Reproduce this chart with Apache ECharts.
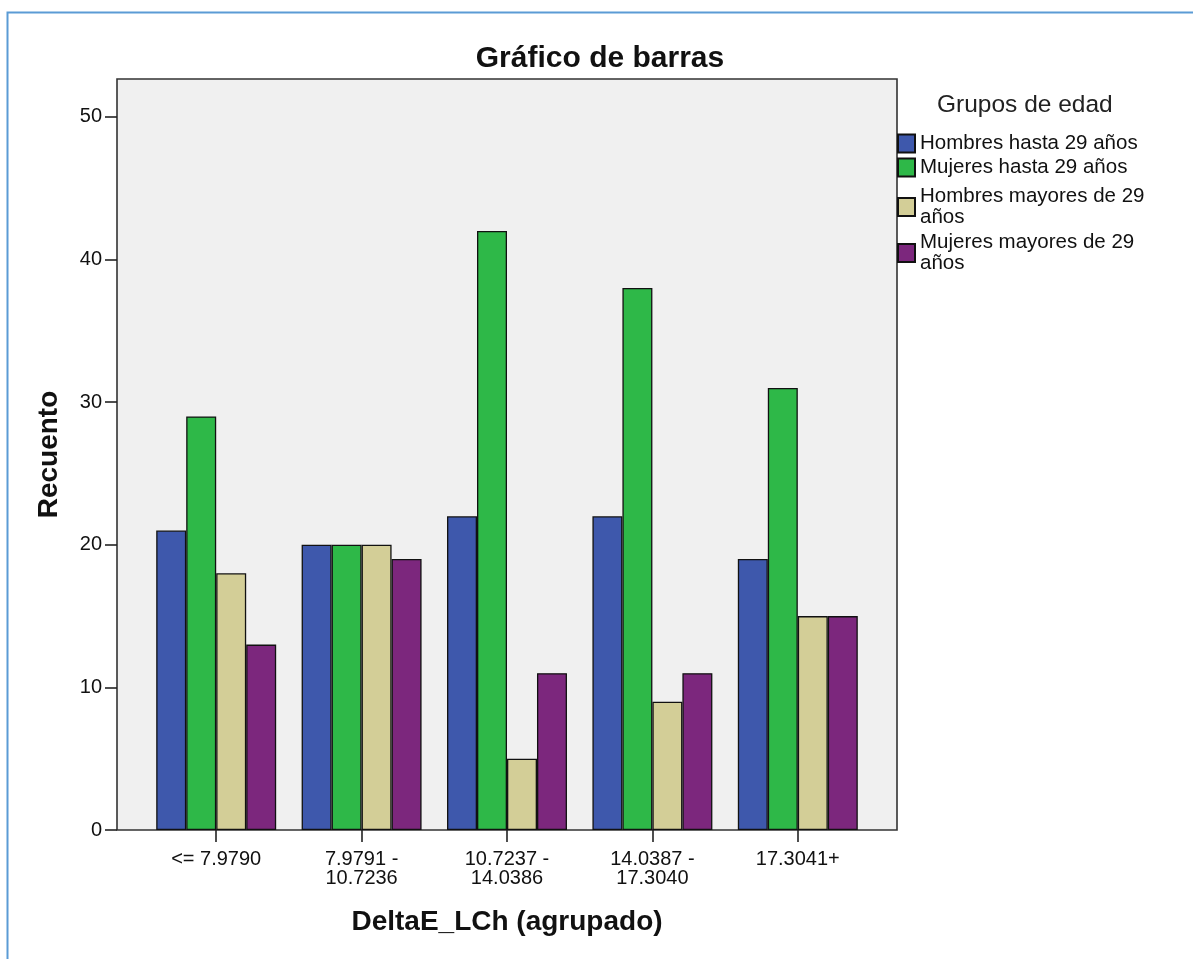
<!DOCTYPE html>
<html>
<head>
<meta charset="utf-8">
<title>Gráfico de barras</title>
<script src="https://cdn.jsdelivr.net/npm/echarts@6/dist/echarts.min.js"></script>
<style>
  html, body { margin: 0; padding: 0; background: #fff; }
  #chart { width: 1193px; height: 959px; }
</style>
</head>
<body>
<div id="chart"></div>
<script>
// datos
var categorias = ['<= 7.9790', '7.9791 -\n10.7236', '10.7237 -\n14.0386', '14.0387 -\n17.3040', '17.3041+'];
var grupos = ['Hombres hasta 29 años', 'Mujeres hasta 29 años', 'Hombres mayores de 29\naños', 'Mujeres mayores de 29\naños'];
var hombresHasta29 = [21, 20, 22, 22, 19];
var mujeresHasta29 = [29, 20, 42, 38, 31];
var hombresMayores29 = [18, 20, 5, 9, 15];
var mujeresMayores29 = [13, 19, 11, 11, 15];
var ticksY = [0, 10, 20, 30, 40, 50];

var colores = ['#3e58ac', '#2eb848', '#d3ce97', '#7c277d'];
var fuente = 'Liberation Sans, Arial, sans-serif';
var yMax = 52.66;
// posición vertical de cada fila de la leyenda
var topsLeyenda = [133, 157, 186, 232];

var myChart = echarts.init(document.getElementById('chart'));

function serie (i, datos) {
  return {
    name: grupos[i],
    type: 'bar',
    xAxisIndex: 1,
    yAxisIndex: 1,
    data: datos,
    barGap: '0%',
    barCategoryGap: '17.5%',
    itemStyle: { color: colores[i], borderColor: '#111', borderWidth: 1.3 },
    emphasis: { disabled: true }
  };
}

// una leyenda por fila para respetar el espaciado del original
var leyendas = grupos.map(function (g, i) {
  return {
    orient: 'vertical',
    left: 897,
    top: topsLeyenda[i],
    padding: 0,
    itemWidth: 17,
    itemHeight: 18,
    icon: 'rect',
    data: [g],
    selectedMode: false,
    textStyle: { fontFamily: fuente, fontSize: 20.5, lineHeight: 21, color: '#111' }
  };
});

var option = {
  animation: false,
  backgroundColor: '#fff',
  graphic: [{
    type: 'rect',
    left: 5,
    top: 10,
    shape: { width: 1300, height: 1100 },
    style: { fill: 'none', stroke: '#5b9bd5', lineWidth: 2 },
    silent: true
  }],
  title: [{
    text: 'Gráfico de barras',
    left: 600,
    top: 44,
    textAlign: 'center',
    padding: 0,
    textStyle: { fontFamily: fuente, fontSize: 30, fontWeight: 'bold', color: '#111' }
  }, {
    text: 'Grupos de edad',
    left: 937,
    top: 93,
    padding: 0,
    textStyle: { fontFamily: fuente, fontSize: 24.5, fontWeight: 'normal', color: '#222' }
  }],
  legend: leyendas,
  grid: [
    // marco completo con fondo gris
    { left: 117, top: 79, width: 780, height: 751, show: true, backgroundColor: '#f0f0f0', borderColor: '#333', borderWidth: 1.6 },
    // zona de las barras
    { left: 143.5, top: 79, width: 727, height: 751 }
  ],
  xAxis: [
    { gridIndex: 0, type: 'value', show: false, min: 0, max: 1 },
    {
      gridIndex: 1,
      type: 'category',
      data: categorias,
      axisLine: { show: false },
      axisTick: { show: true, alignWithLabel: true, interval: 0, length: 12, lineStyle: { color: '#222', width: 1.6 } },
      axisLabel: { interval: 0, margin: 20, fontFamily: fuente, fontSize: 20, lineHeight: 19, color: '#111' },
      name: 'DeltaE_LCh (agrupado)',
      nameLocation: 'middle',
      nameGap: 78,
      nameTextStyle: { fontFamily: fuente, fontSize: 28, fontWeight: 'bold', color: '#111' }
    }
  ],
  yAxis: [
    {
      gridIndex: 0,
      type: 'value',
      min: 0,
      max: yMax,
      axisLine: { show: false },
      splitLine: { show: false },
      axisTick: { show: true, length: 12, customValues: ticksY, lineStyle: { color: '#222', width: 1.6 } },
      axisLabel: { margin: 15, customValues: ticksY, fontFamily: fuente, fontSize: 20, color: '#111' },
      name: 'Recuento',
      nameLocation: 'middle',
      nameGap: 54,
      nameTextStyle: { fontFamily: fuente, fontSize: 28, fontWeight: 'bold', color: '#111' }
    },
    { gridIndex: 1, type: 'value', min: 0, max: yMax, show: false, splitLine: { show: false } }
  ],
  series: [
    serie(0, hombresHasta29),
    serie(1, mujeresHasta29),
    serie(2, hombresMayores29),
    serie(3, mujeresMayores29)
  ]
};

myChart.setOption(option);
</script>
</body>
</html>
